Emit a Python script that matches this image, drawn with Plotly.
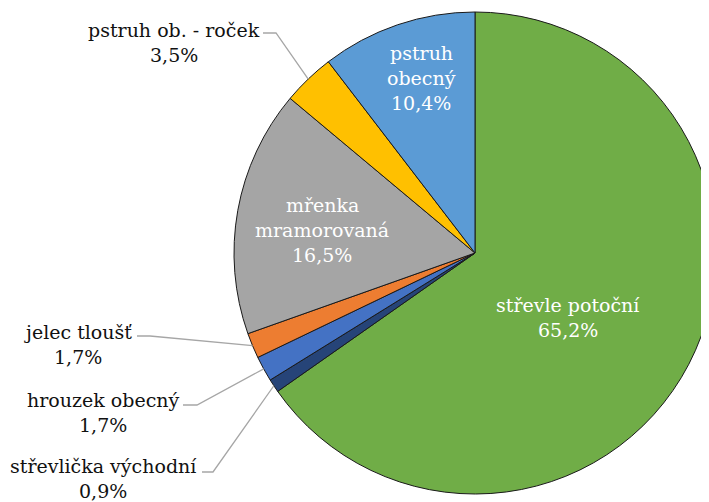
import math
import plotly.graph_objects as go

# ---- data ----
species = ["střevle potoční", "střevlička východní", "hrouzek obecný", "jelec tloušť",
           "mřenka mramorovaná", "pstruh ob. - roček", "pstruh obecný"]
shares = [65.2, 0.9, 1.7, 1.7, 16.5, 3.5, 10.4]
colors = ["#70AD47", "#264478", "#4472C4", "#ED7D31", "#A5A5A5", "#FFC000", "#5B9BD5"]
name_lines = [["střevle potoční"], ["střevlička východní"], ["hrouzek obecný"], ["jelec tloušť"],
              ["mřenka", "mramorovaná"], ["pstruh ob. - roček"], ["pstruh", "obecný"]]
inside = [True, False, False, False, True, False, True]

W, H = 709, 502
OFF = 8  # page offset of the figure (body margin)
DX = [226 / W, 708 / W]
DY = [1 - 486 / H, 1 - 4 / H]
FONT = "DejaVu Serif"
FS = 19
LH = 25  # line spacing in px

fig = go.Figure(go.Pie(
    labels=species, values=shares, sort=False, direction="clockwise", rotation=0,
    marker=dict(colors=colors, line=dict(color="#1a1a1a", width=1)),
    textinfo="none", hoverinfo="label+percent", showlegend=False,
    domain=dict(x=DX, y=DY),
))

# pie geometry in figure pixels (as plotly computes it)
r = min(W * (DX[1] - DX[0]), H * (DY[1] - DY[0])) / 2
cx = W * (DX[0] + DX[1]) / 2
cy = H * (1 - (DY[0] + DY[1]) / 2)

def scr(sx, sy):
    return (sx - OFF) / W, 1 - (sy - OFF) / H

def fig2paper(fx, fy):
    return fx / W, 1 - fy / H

def fmt(v):
    return f"{v:.1f}".replace(".", ",") + "%"

total = sum(shares)
mids = []
acc = 0
for v in shares:
    mids.append((acc + v / 2) / total * 360)
    acc += v

# label placement: centre x and y of the first line (screen px)
label_pos = {
    0: (568, 305),
    4: (322, 205),
    6: (421, 53),
    5: (174, 30),
    3: (78, 332),
    2: (103, 400),
    1: (103, 466),
}
elbows = {
    5: [(263, 33), (276, 33)],
    3: [(137, 336), (150, 336)],
    2: [(183, 405), (197, 405)],
    1: [(202, 472), (213, 472)],
}

annotations = []
shapes = []
for i in range(len(species)):
    x, y = label_pos[i]
    lines = name_lines[i] + [fmt(shares[i])]
    col = "white" if inside[i] else "#111111"
    for k, t in enumerate(lines):
        xp, yp = scr(x, y + k * LH)
        annotations.append(dict(
            x=xp, y=yp, xref="paper", yref="paper", text=t, showarrow=False,
            font=dict(family=FONT, size=FS, color=col),
            xanchor="center", yanchor="middle", align="center",
        ))
    if i in elbows:
        a = math.radians(mids[i])
        ex = cx + r * math.sin(a)
        ey = cy - r * math.cos(a)
        pts = [scr(*p) for p in elbows[i]] + [fig2paper(ex, ey)]
        path = "M " + " L ".join(f"{p[0]:.5f},{p[1]:.5f}" for p in pts)
        shapes.append(dict(type="path", path=path, xref="paper", yref="paper",
                           line=dict(color="#A6A6A6", width=1.3)))

fig.update_layout(
    width=W, height=H, margin=dict(l=0, r=0, t=0, b=0),
    paper_bgcolor="white", plot_bgcolor="white",
    annotations=annotations, shapes=shapes,
)

fig.write_html("out.html")
